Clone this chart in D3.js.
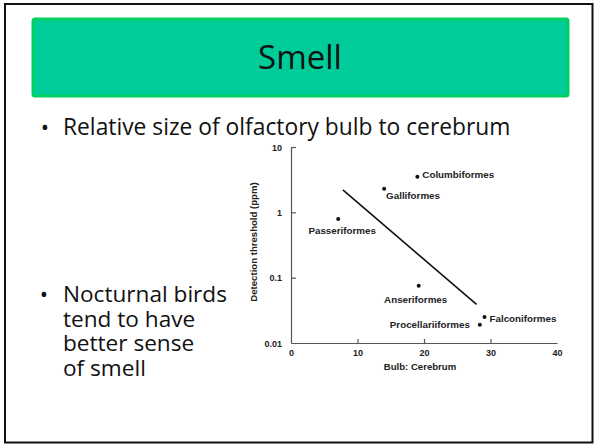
<!DOCTYPE html>
<html>
<head>
<meta charset="utf-8">
<script src="https://cdn.jsdelivr.net/npm/d3@7/dist/d3.min.js"></script>
<style>
  body { margin: 0; background: #fff; }
  svg { display: block; }
  .axis path, .axis line { stroke: #555; stroke-width: 1.2; }
  .axis text { font-family: "Liberation Sans", Arial, sans-serif; font-weight: bold; font-size: 9px; fill: #222; }
  .lbl { font-family: "Liberation Sans", Arial, sans-serif; font-weight: bold; font-size: 9.8px; fill: #222; }
  .slide { font-family: "Open Sans", sans-serif; fill: #111; }
</style>
</head>
<body>
<script>
// bird orders, olfactory bulb : cerebrum ratio vs detection threshold (ppm)
var orders = ["Columbiformes", "Galliformes", "Passeriformes", "Anseriformes", "Procellariiformes", "Falconiformes"];
var bulbRatio = [19, 14, 7.1, 19.2, 28.4, 29.1];
var threshold = [3.5, 2.3, 0.79, 0.075, 0.019, 0.025];

// fitted trend line ends
var fitX = [7.8, 27.9];
var fitY = [2.2, 0.039];

var xTicks = [0, 10, 20, 30, 40];
var yTicks = [10, 1, 0.1, 0.01];
var yTickLabels = ["10", "1", "0.1", "0.01"];

var bullets1 = ["Relative size of olfactory bulb to cerebrum"];
var bullets2 = ["Nocturnal birds", "tend to have", "better sense", "of smell"];

// label placement relative to each dot: dx, dy, anchor
var labelPos = {
  "Columbiformes": [5, 1, "start"],
  "Galliformes": [2, 10, "start"],
  "Passeriformes": [4, 15, "middle"],
  "Anseriformes": [-3, 17, "middle"],
  "Procellariiformes": [-10, 3.5, "end"],
  "Falconiformes": [5, 4.5, "start"]
};

var svgWidth = 595;
var svgHeight = 445;

var svg = d3.select("body").append("svg")
  .attr("width", svgWidth)
  .attr("height", svgHeight);

// slide frame
svg.append("rect")
  .attr("x", 5).attr("y", 4)
  .attr("width", 587.5).attr("height", 438.5)
  .attr("fill", "#fff")
  .attr("stroke", "#111")
  .attr("stroke-width", 2);

// title box
svg.append("rect")
  .attr("x", 33).attr("y", 19)
  .attr("width", 535).attr("height", 77)
  .attr("rx", 2)
  .attr("fill", "#00cc99")
  .attr("stroke", "#00d060")
  .attr("stroke-width", 3);

svg.append("text")
  .attr("class", "slide")
  .attr("x", 300).attr("y", 69)
  .attr("text-anchor", "middle")
  .style("font-size", "33px")
  .text("Smell");

// bullet texts
svg.selectAll(".b1").data(bullets1).enter().append("text")
  .attr("class", "slide b1")
  .attr("x", 63).attr("y", 135)
  .style("font-size", "22.8px")
  .text(function(d) { return d; });
svg.append("text").attr("class", "slide")
  .attr("x", 45).attr("y", 135).attr("text-anchor", "middle")
  .style("font-size", "22px").text("•");

// second bullet as one wrapped paragraph
var para = svg.append("text")
  .attr("class", "slide b2")
  .attr("x", 63).attr("y", 302)
  .style("font-size", "22.6px");
para.selectAll("tspan").data(bullets2).enter().append("tspan")
  .attr("x", 63)
  .attr("dy", function(d, i) { return i == 0 ? 0 : 24.7; })
  .text(function(d) { return d; });
svg.append("text").attr("class", "slide")
  .attr("x", 44).attr("y", 302).attr("text-anchor", "middle")
  .style("font-size", "22px").text("•");

// chart
var x = d3.scaleLinear().domain([0, 40]).range([291, 557]);
var y = d3.scaleLog().domain([0.01, 10]).range([343, 147]);

var xAxis = d3.axisBottom(x)
  .tickValues(xTicks)
  .tickFormat(d3.format("d"))
  .tickSizeInner(-4)
  .tickSizeOuter(0)
  .tickPadding(7);

var yAxis = d3.axisLeft(y)
  .tickValues(yTicks)
  .tickFormat(function(d, i) { return yTickLabels[i]; })
  .tickSizeInner(-5)
  .tickSizeOuter(0)
  .tickPadding(9);

var gX = svg.append("g")
  .attr("class", "axis")
  .attr("transform", "translate(0," + y(0.01) + ")")
  .call(xAxis);
gX.selectAll(".tick").filter(function(d) { return d == 0 || d == 40; }).select("line").remove();

var gY = svg.append("g")
  .attr("class", "axis")
  .attr("transform", "translate(" + x(0) + ",0)")
  .call(yAxis);
gY.selectAll(".tick").filter(function(d) { return d == 0.01; }).select("line").remove();
gY.selectAll("text").attr("dy", "0.35em");

svg.append("text")
  .attr("class", "lbl")
  .attr("transform", "translate(257," + 242 + ") rotate(-90)")
  .attr("text-anchor", "middle")
  .style("font-size", "9.6px")
  .text("Detection threshold (ppm)");

svg.append("text")
  .attr("class", "lbl")
  .attr("x", x(20) - 4).attr("y", 370)
  .attr("text-anchor", "middle")
  .style("font-size", "9.6px")
  .text("Bulb: Cerebrum");

// trend line
var line = d3.line()
  .x(function(d) { return x(d[0]); })
  .y(function(d) { return y(d[1]); });
svg.append("path")
  .datum(d3.zip(fitX, fitY))
  .attr("d", line)
  .attr("fill", "none")
  .attr("stroke", "#111")
  .attr("stroke-width", 1.6);

// points
var pts = d3.range(orders.length);
svg.selectAll(".dot").data(pts).enter().append("circle")
  .attr("class", "dot")
  .attr("cx", function(i) { return x(bulbRatio[i]); })
  .attr("cy", function(i) { return y(threshold[i]); })
  .attr("r", 2)
  .attr("fill", "#111");

svg.selectAll(".ptlbl").data(pts).enter().append("text")
  .attr("class", "lbl ptlbl")
  .attr("x", function(i) { return x(bulbRatio[i]) + labelPos[orders[i]][0]; })
  .attr("y", function(i) { return y(threshold[i]) + labelPos[orders[i]][1]; })
  .attr("text-anchor", function(i) { return labelPos[orders[i]][2]; })
  .text(function(i) { return orders[i]; });
</script>
</body>
</html>
